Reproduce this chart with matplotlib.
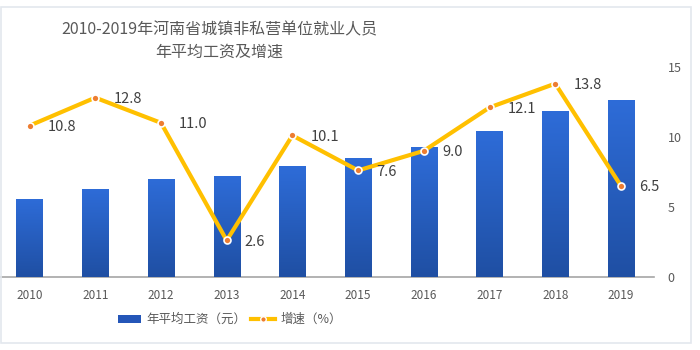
import matplotlib
matplotlib.use("Agg")
import matplotlib.pyplot as plt
import numpy as np
from matplotlib.patches import Rectangle, Patch
from matplotlib.lines import Line2D
from matplotlib.colors import LinearSegmentedColormap

plt.rcParams['font.family'] = ['Noto Sans CJK SC', 'DejaVu Sans']

years = ['2010', '2011', '2012', '2013', '2014', '2015', '2016', '2017', '2018', '2019']
wages = [29819, 33634, 37338, 38301, 42179, 45403, 49505, 55495, 63149, 67268]
growth = [10.8, 12.8, 11.0, 2.6, 10.1, 7.6, 9.0, 12.1, 13.8, 6.5]
right_ticks = [0, 5, 10, 15]

fig = plt.figure(figsize=(7, 3.5), dpi=100)
ax = fig.add_axes([0.0, 0.209, 0.934, 0.6])
ax2 = ax.twinx()

x = np.arange(len(years))
bars = ax.bar(x, wages, width=0.4, color='#2a5fc4', zorder=2)
cmap = LinearSegmentedColormap.from_list('g', ['#1f4fa3', '#2e6cd8'])
grad = np.linspace(0, 1, 256).reshape(-1, 1)
for b in bars:
    im = ax.imshow(grad, cmap=cmap, origin='lower', aspect='auto',
                   extent=[b.get_x(), b.get_x() + b.get_width(), 0, b.get_height()], zorder=3)
    im.set_clip_path(b)
ax.set_xlim(-0.45, 9.5)
ax.set_ylim(0, 80000)
ax.set_yticks([])
for s in ['top', 'right', 'left']:
    ax.spines[s].set_visible(False)
ax.spines['bottom'].set_color('#a6a6a6')
ax.spines['bottom'].set_linewidth(1.2)
ax.set_xticks(x)
ax.set_xticklabels(years, fontsize=8.5, color='#595959')
ax.tick_params(axis='x', length=0, pad=9)

ax2.plot(x, growth, color='#ffc000', lw=3, zorder=4, marker='o', markersize=5,
         markerfacecolor='#ed7d31', markeredgecolor='white', markeredgewidth=1.2)
ax2.set_ylim(0, 15)
ax2.set_yticks(right_ticks)
ax2.set_yticklabels([str(t) for t in right_ticks], fontsize=9, color='#595959')
ax2.tick_params(axis='y', length=0, pad=10)
for s in ['top', 'right', 'left', 'bottom']:
    ax2.spines[s].set_visible(False)
for xi, g in zip(x, growth):
    ax2.annotate(f'{g:.1f}', (xi, g), xytext=(13, -1), textcoords='offset points',
                 ha='left', va='center', fontsize=10.5, color='#404040', zorder=5)

fig.text(0.313, 0.915, '2010-2019年河南省城镇非私营单位就业人员', ha='center', va='center',
         fontsize=11.5, color='#595959')
fig.text(0.313, 0.851, '年平均工资及增速', ha='center', va='center',
         fontsize=11.5, color='#595959')

handles = [Patch(facecolor='#2456b8', edgecolor='none'),
           Line2D([0], [0], color='#ffc000', lw=3, marker='o', markersize=4,
                  markerfacecolor='#ed7d31', markeredgecolor='white')]
fig.legend(handles, ['年平均工资（元）', '增速（%）'], loc='center', bbox_to_anchor=(0.328, 0.087),
           ncol=2, frameon=False, fontsize=9, labelcolor='#595959', handlelength=1.9,
           handleheight=0.6, columnspacing=0.4, handletextpad=0.4)

fig.add_artist(Rectangle((0.002, 0.02), 0.985, 0.96, transform=fig.transFigure,
                         fill=False, edgecolor='#e3e8ee', lw=1.2))

fig.savefig('out.png', dpi=100)
